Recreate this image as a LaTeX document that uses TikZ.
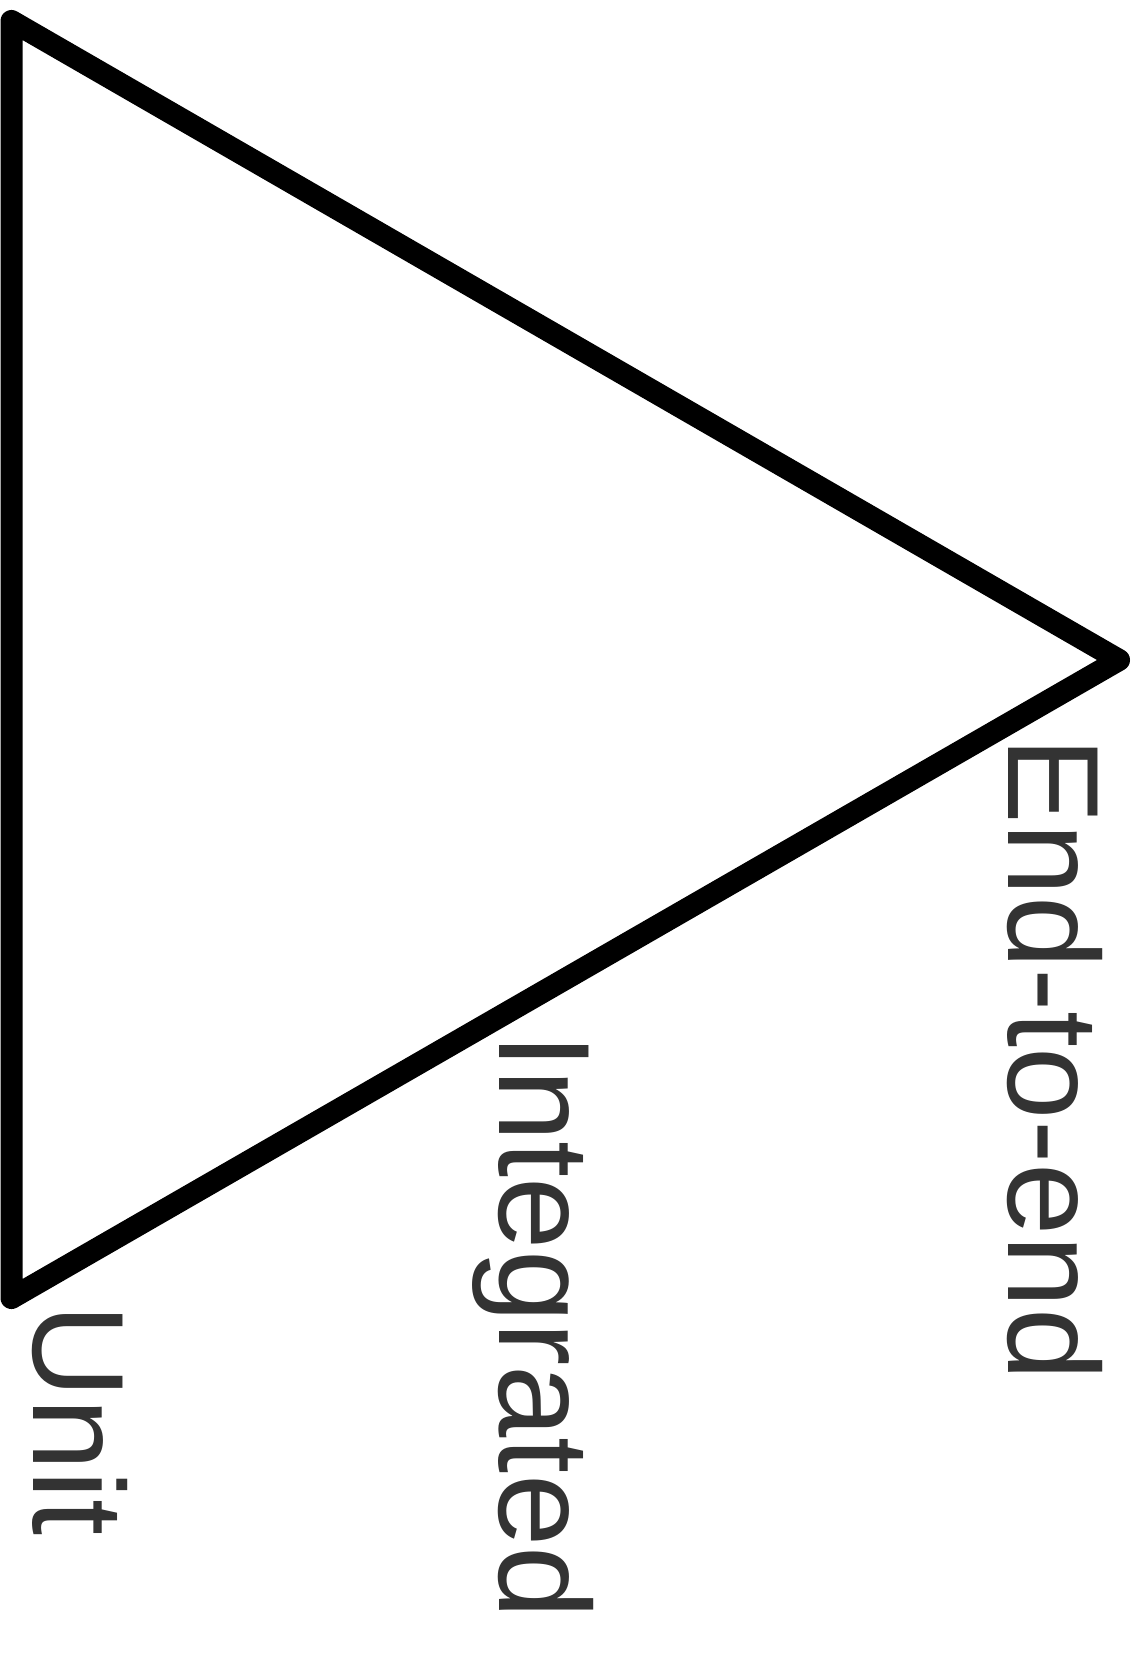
\documentclass[tikz,border=0pt]{standalone}
\usepackage{fontspec}
\setmainfont{Liberation Sans}
\definecolor{labelgray}{HTML}{333333}
\begin{document}
\begin{tikzpicture}[x=1pt,y=-1pt,
  tri/.style={draw=black,line width=22pt,line join=round,line cap=round},
  lbl/.style={rotate=-90,anchor=base west,inner sep=0pt,text=labelgray,font=\fontsize{130}{150}\selectfont}]
\useasboundingbox (0,0) rectangle (1138,1656);
\coordinate (tl) at (11.5,21);
\coordinate (bl) at (11.5,1298);
\coordinate (rt) at (1119,660);
\draw[tri] (tl) -- (rt) -- (bl) -- cycle;
\node[lbl] (unit) at (33,1304) {Unit};
\node[lbl] (integrated) at (499,1033) {Integrated};
\node[lbl] (e2e) at (1008,737) {End-to-end};
\end{tikzpicture}
\end{document}
